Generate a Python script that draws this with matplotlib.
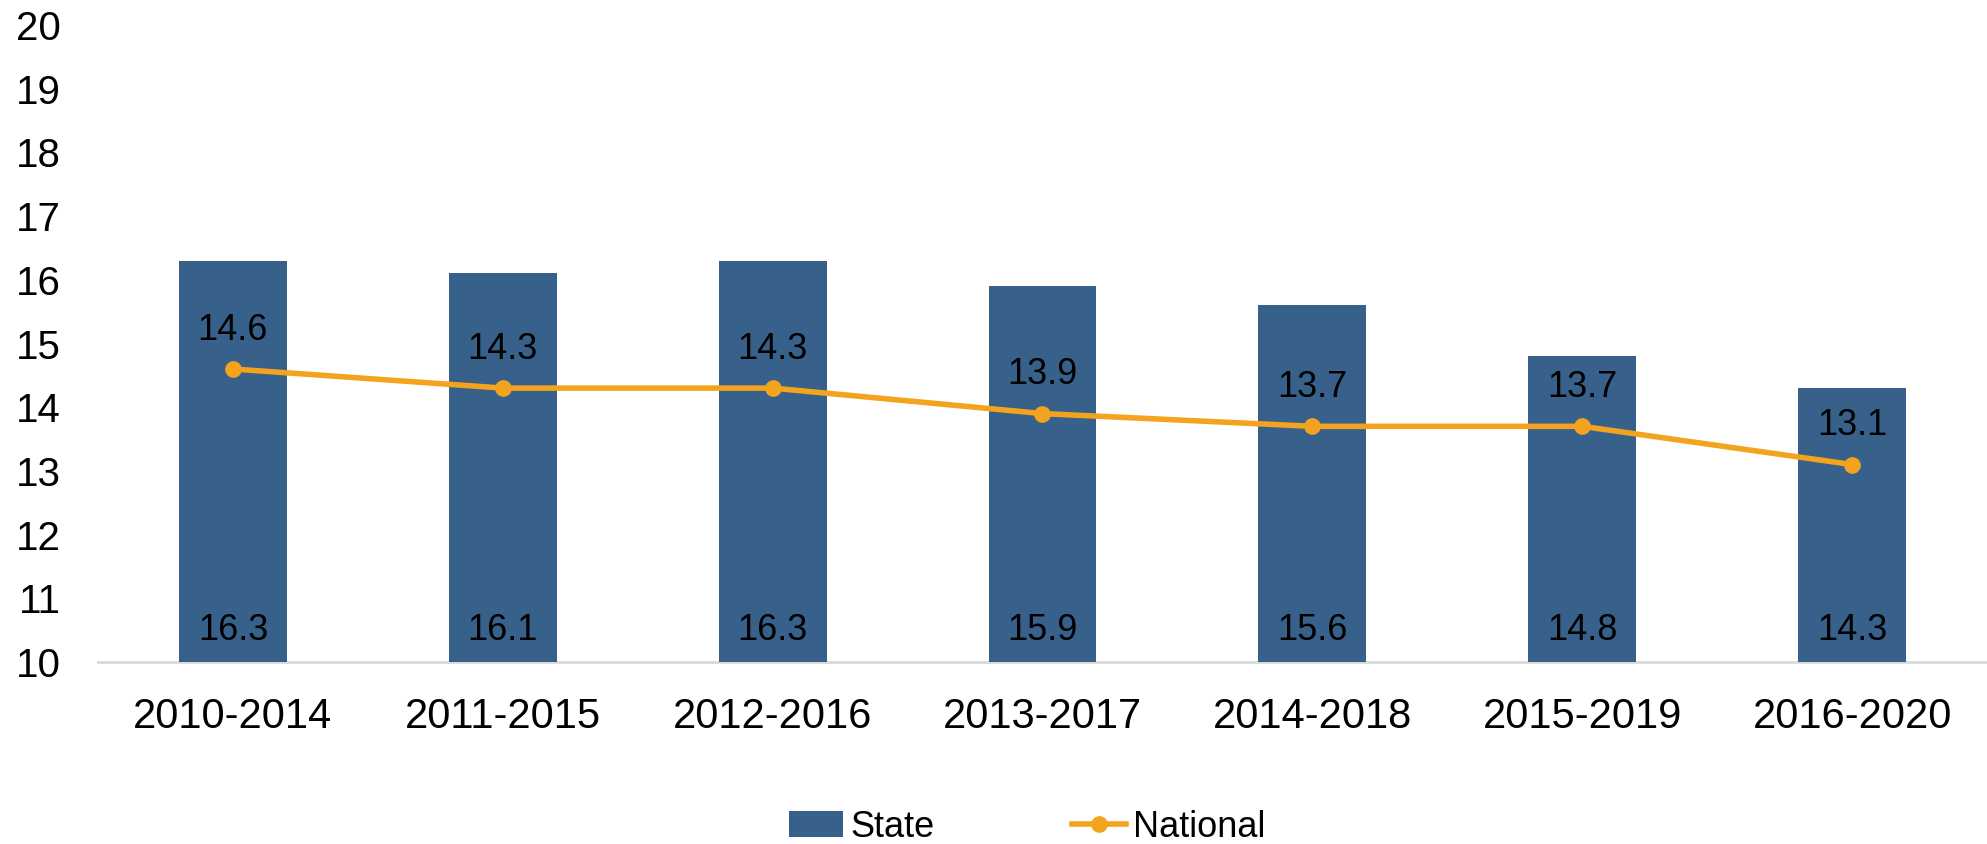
import matplotlib.pyplot as plt

periods = ['2010-2014', '2011-2015', '2012-2016', '2013-2017', '2014-2018', '2015-2019', '2016-2020']
state = [16.3, 16.1, 16.3, 15.9, 15.6, 14.8, 14.3]
national = [14.6, 14.3, 14.3, 13.9, 13.7, 13.7, 13.1]
yticks = [10, 11, 12, 13, 14, 15, 16, 17, 18, 19, 20]

plt.rcParams['font.family'] = ['Liberation Sans', 'DejaVu Sans']

fig = plt.figure(figsize=(19.87, 8.44), dpi=100)
ax = fig.add_axes([0.0493, 0.2156, 0.9507, 0.7548])

x = list(range(len(periods)))
bars = ax.bar(x, [s - 10 for s in state], bottom=10, width=0.4, color='#37608A', label='State', zorder=2)
line, = ax.plot(x, national, color='#F4A31F', lw=4, marker='o', markersize=11, label='National', zorder=3)

# labels: state at bar base, national above points
for i, v in enumerate(state):
    ax.text(i, 10.5, f'{v:.1f}', ha='center', va='center', fontsize=26, color='black', zorder=4)
for i, v in enumerate(national):
    ax.annotate(f'{v:.1f}', (i, v), xytext=(0, 28), textcoords='offset points',
                ha='center', va='center', fontsize=26, color='black', zorder=4)

ax.set_xlim(-0.5, 6.5)
ax.set_ylim(10, 20)
ax.set_yticks(yticks)
ax.set_xticks(x)
ax.set_xticklabels(periods)
ax.tick_params(axis='y', length=0, labelsize=29, pad=27)
ax.tick_params(axis='x', length=0, labelsize=30, pad=25)
for s in ['top', 'right', 'left']:
    ax.spines[s].set_visible(False)
ax.spines['bottom'].set_color('#D9D9D9')
ax.spines['bottom'].set_linewidth(2)
ax.spines['bottom'].set_zorder(1)

fig.legend([bars, line], ['State', 'National'], loc='center', bbox_to_anchor=(0.517, 0.02),
           ncol=2, frameon=False, fontsize=26, handlelength=1.5, handletextpad=0.2, columnspacing=3.8)

fig.savefig('out.png', dpi=100)
